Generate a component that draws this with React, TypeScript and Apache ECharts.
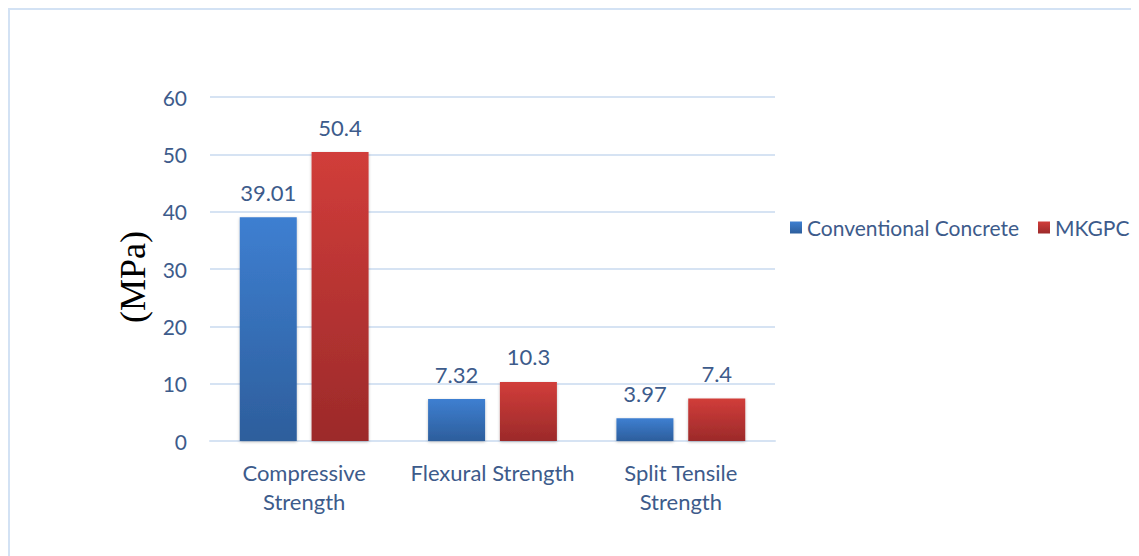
import React, { useEffect, useRef } from "react";
import * as echarts from "echarts";

const categories = ["Compressive\nStrength", "Flexural Strength", "Split Tensile\nStrength"];
const conventional = [39.01, 7.32, 3.97];
const mkgpc = [50.4, 10.3, 7.4];
const seriesNames = ["Conventional Concrete", "MKGPC"];
const yTicks = { min: 0, max: 60, interval: 10 };

const TEXT = "#3D5B8B";
const FONT = "Lato";
const FRAME = "#D3E2F4";

export default function App() {
  const ref = useRef<HTMLDivElement>(null);
  useEffect(() => {
    if (!ref.current) return;
    const chart = echarts.init(ref.current, undefined, { renderer: "svg" });
    const blue = new echarts.graphic.LinearGradient(0, 0, 0, 1, [
      { offset: 0, color: "#3E7FD1" },
      { offset: 1, color: "#2D5E9C" },
    ]);
    const red = new echarts.graphic.LinearGradient(0, 0, 0, 1, [
      { offset: 0, color: "#D13D3A" },
      { offset: 1, color: "#9C2A2A" },
    ]);
    const label = {
      show: true,
      position: "top" as const,
      distance: 14,
      color: TEXT,
      fontSize: 22,
      fontFamily: FONT,
    };
    chart.setOption({
      animation: false,
      backgroundColor: "#ffffff",
      grid: { left: 202, top: 89, width: 565, height: 344, containLabel: false },
      legend: {
        left: 777,
        top: 204,
        width: 1000,
        orient: "horizontal",
        itemWidth: 12,
        itemHeight: 12,
        itemGap: 19,
        icon: "rect",
        textStyle: { color: TEXT, fontSize: 21, fontFamily: FONT },
        data: seriesNames,
      },
      xAxis: {
        type: "category",
        data: categories,
        axisLine: { show: true, lineStyle: { color: "#D6E3F3", width: 2 } },
        axisTick: { show: false },
        axisLabel: {
          color: TEXT,
          fontSize: 22,
          fontFamily: FONT,
          margin: 17,
          lineHeight: 29,
          interval: 0,
        },
      },
      yAxis: {
        type: "value",
        min: yTicks.min,
        max: yTicks.max,
        interval: yTicks.interval,
        axisLine: { show: false },
        axisTick: { show: false },
        splitLine: { lineStyle: { color: "#D6E3F3", width: 2 } },
        axisLabel: { color: TEXT, fontSize: 21, fontFamily: FONT, margin: 23 },
      },
      graphic: [
        { type: "rect", shape: { x: 0, y: 0, width: 1131, height: 2 }, style: { fill: FRAME } },
        { type: "rect", shape: { x: 0, y: 0, width: 2, height: 548 }, style: { fill: FRAME } },
        {
          type: "text",
          x: 125,
          y: 269,
          rotation: Math.PI / 2,
          style: {
            text: "(MPa)",
            fontFamily: "Liberation Serif",
            fontSize: 36,
            fill: "#000000",
            align: "center",
            verticalAlign: "middle",
          },
        },
      ],
      series: [
        {
          name: seriesNames[0],
          type: "bar",
          data: conventional,
          barWidth: 57,
          barGap: "26%",
          itemStyle: { color: blue, shadowColor: "rgba(0,0,0,0.25)", shadowBlur: 3, shadowOffsetY: 1 },
          label,
        },
        {
          name: seriesNames[1],
          type: "bar",
          data: mkgpc,
          barWidth: 57,
          itemStyle: { color: red, shadowColor: "rgba(0,0,0,0.25)", shadowBlur: 3, shadowOffsetY: 1 },
          label,
        },
      ],
    });
    return () => chart.dispose();
  }, []);
  return <div ref={ref} style={{ width: 1131, height: 548 }} />;
}
